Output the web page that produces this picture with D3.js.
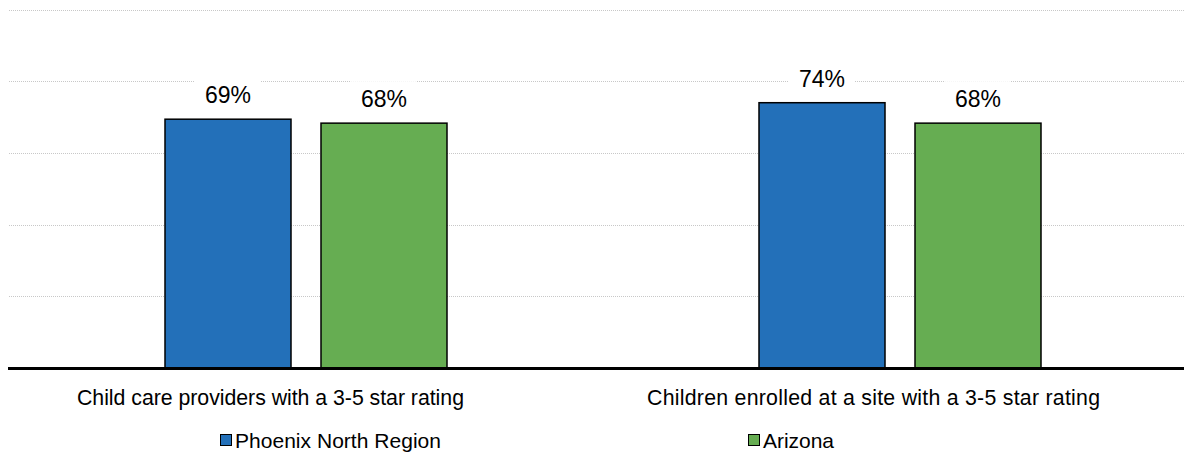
<!DOCTYPE html>
<html><head><meta charset="utf-8">
<script src="https://cdn.jsdelivr.net/npm/d3@7"></script>
<style>body{margin:0;background:#fff}svg{display:block;font-family:"Liberation Sans",Arial,sans-serif}</style>
</head><body>
<svg id="c" width="1184" height="455"></svg>
<script>
const categories = ["Child care providers with a 3-5 star rating", "Children enrolled at a site with a 3-5 star rating"];
const seriesNames = ["Phoenix North Region", "Arizona"];
const phoenixNorth = [69.4, 74];
const arizona = [68.3, 68.3];
const yTicks = [0, 20, 40, 60, 80, 100];
const colors = ["#2370b9", "#66ad52"];

const svg = d3.select("#c");
const y = d3.scaleLinear().domain([0, 100]).range([368, 9.5]);
const x0 = d3.scaleBand().domain(categories).range([9, 1197]).paddingInner(0).paddingOuter(0);
const bw = 126;
const x1 = d3.scaleOrdinal().domain(seriesNames).range([x0.bandwidth()/2 - 141, x0.bandwidth()/2 + 141 - bw]);

// gridlines
svg.append("g").selectAll("line").data(yTicks.filter(d => d > 0)).join("line")
  .attr("x1", 9).attr("x2", 1184)
  .attr("y1", d => Math.round(y(d)) + 0.5).attr("y2", d => Math.round(y(d)) + 0.5)
  .attr("stroke", "#c8c8c8").attr("stroke-width", 1).attr("stroke-dasharray", "1,1");

const data = categories.map((c, i) => ({ c, vals: [phoenixNorth[i], arizona[i]] }));
const g = svg.append("g").selectAll("g").data(data).join("g")
  .attr("transform", d => `translate(${x0(d.c)},0)`);

const items = d => d.vals.map((v, j) => ({ v, s: seriesNames[j], j }));

g.selectAll("rect.bar").data(items).join("rect")
  .attr("class", "bar")
  .attr("x", d => x1(d.s)).attr("width", bw)
  .attr("y", d => y(d.v)).attr("height", d => y(0) - y(d.v))
  .attr("fill", d => colors[d.j]).attr("stroke", "#000").attr("stroke-width", 1.5);

// label backgrounds
g.selectAll("rect.bg").data(items).join("rect")
  .attr("class", "bg")
  .attr("x", d => x1(d.s) + bw/2 - 33).attr("width", 66)
  .attr("y", d => y(d.v) - 42).attr("height", 36)
  .attr("fill", "#fff");

g.selectAll("text.val").data(items).join("text")
  .attr("class", "val")
  .attr("x", d => x1(d.s) + bw/2).attr("y", d => y(d.v) - 16)
  .attr("text-anchor", "middle").attr("font-size", 23).attr("fill", "#000")
  .text(d => Math.round(d.v) + "%");

// baseline
svg.append("line").attr("x1", 8).attr("x2", 1184).attr("y1", y(0) + 0.5).attr("y2", y(0) + 0.5)
  .attr("stroke", "#000").attr("stroke-width", 3);

// category labels
const labelShift = [-35.5, -26.5];
const labelLen = [387, 453];
svg.append("g").selectAll("text").data(categories).join("text")
  .attr("x", (d, i) => x0(d) + x0.bandwidth()/2 + labelShift[i]).attr("y", 405)
  .attr("text-anchor", "middle").attr("font-size", 21.3).attr("fill", "#000")
  .attr("textLength", (d, i) => labelLen[i])
  .text(d => d);

// legend
const legX = [220, 748];
const lg = svg.append("g").selectAll("g").data(seriesNames).join("g")
  .attr("transform", (d, i) => `translate(${legX[i]},434)`);
lg.append("rect").attr("x", 0.5).attr("y", 0.5).attr("width", 11).attr("height", 11)
  .attr("fill", (d, i) => colors[i]).attr("stroke", "#000").attr("stroke-width", 1);
lg.append("text").attr("x", 15).attr("y", 14).attr("font-size", 21).attr("fill", "#000")
  .attr("textLength", (d, i) => i === 0 ? 206 : 71)
  .text(d => d);
</script>
</body></html>
